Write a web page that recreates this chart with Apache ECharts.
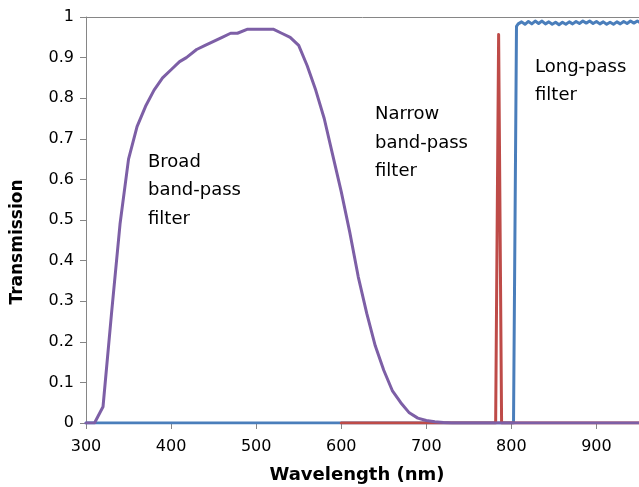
<!DOCTYPE html>
<html>
<head>
<meta charset="utf-8">
<script src="https://cdn.jsdelivr.net/npm/echarts@6/dist/echarts.min.js"></script>
<style>html,body{margin:0;padding:0;background:#fff}#c{width:639px;height:487px}</style>
</head>
<body>
<div id="c"></div>
<script>
// Broad band-pass filter (wavelength nm, transmission)
var broadBand = [[300,0],[310,0],[320,0.04],[330,0.27],[340,0.49],[350,0.65],[360,0.73],[370,0.78],[380,0.82],[390,0.85],[400,0.87],[410,0.89],[418,0.90],[430,0.92],[440,0.93],[450,0.94],[460,0.95],[470,0.96],[478,0.96],[490,0.97],[500,0.97],[510,0.97],[520,0.97],[530,0.96],[540,0.95],[550,0.93],[560,0.88],[570,0.82],[580,0.75],[590,0.66],[600,0.57],[610,0.47],[620,0.36],[630,0.27],[640,0.19],[650,0.13],[660,0.08],[670,0.05],[680,0.025],[690,0.012],[700,0.006],[710,0.003],[720,0.001],[730,0],[950,0]];
// Narrow band-pass filter
var narrowBand = [[600,0],[781.5,0],[785,0.957],[788.5,0],[950,0]];
// Long-pass filter
var longPass = [[300,0],[802.5,0],[806,0.977],[808,0.983],[812,0.988],[816,0.982],[820,0.989],[824,0.983],[828,0.99],[832,0.984],[836,0.99],[840,0.983],[844,0.988],[848,0.982],[852,0.987],[856,0.981],[860,0.987],[864,0.982],[868,0.988],[872,0.983],[876,0.989],[880,0.984],[884,0.99],[888,0.985],[892,0.99],[896,0.984],[900,0.989],[904,0.983],[908,0.988],[912,0.982],[916,0.987],[920,0.982],[924,0.988],[928,0.983],[932,0.989],[936,0.984],[940,0.99],[944,0.985],[948,0.99],[952,0.985]];
var annotations = [
  {lines:['Broad','band-pass','filter'], x:148, y:[164,192,221]},
  {lines:['Narrow','band-pass','filter'], x:375, y:[116,145,173]},
  {lines:['Long-pass','filter'], x:535, y:[69,97]}
];
var xTitle = 'Wavelength (nm)';
var yTitle = 'Transmission';

var FONT = '"DejaVu Sans", sans-serif';
var chart = echarts.init(document.getElementById('c'), null, {renderer:'canvas'});
var gray = '#868686';
var graphics = [];
annotations.forEach(function(a){
  a.lines.forEach(function(t,i){
    graphics.push({type:'text', left:a.x, top:a.y[i]-11, style:{text:t, font:'18px '+FONT, fill:'#000'}});
  });
});
graphics.push({type:'text', x:357, y:475, style:{text:xTitle, font:'bold 18px '+FONT, fill:'#000', align:'center', verticalAlign:'middle'}});
graphics.push({type:'text', x:18, y:242, rotation:Math.PI/2, style:{text:yTitle, font:'bold 17px '+FONT, fill:'#000', align:'center', verticalAlign:'middle'}});

function lineSeries(data,color,z){
  return {type:'line', data:data, showSymbol:false, symbol:'none', z:z, animation:false,
    lineStyle:{color:color, width:3, cap:'round', join:'round'}};
}
chart.setOption({
  animation:false,
  grid:{left:86, right:-2, top:17, bottom:64, containLabel:false},
  xAxis:[{type:'value', min:300, max:950, interval:100,
    axisLine:{show:true, lineStyle:{color:gray, width:1}},
    axisTick:{show:true, length:6, lineStyle:{color:gray}},
    axisLabel:{color:'#000', fontSize:16, fontFamily:FONT, margin:16, showMaxLabel:false},
    splitLine:{show:false}},
    {type:'value', position:'top', min:300, max:950,
    axisLine:{show:true, lineStyle:{color:gray, width:1}}, axisTick:{show:false}, axisLabel:{show:false}, splitLine:{show:false}}],
  yAxis:{type:'value', min:0, max:1, interval:0.1,
    axisLine:{show:true, lineStyle:{color:gray, width:1}},
    axisTick:{show:true, length:6, lineStyle:{color:gray}},
    axisLabel:{color:'#000', fontSize:16, fontFamily:FONT, margin:12},
    splitLine:{show:false}},
  series:[lineSeries(longPass,'#4A7EBB',2), lineSeries(narrowBand,'#BE4B48',3), lineSeries(broadBand,'#7D5FA6',4)],
  graphic:graphics
});
</script>
</body>
</html>
